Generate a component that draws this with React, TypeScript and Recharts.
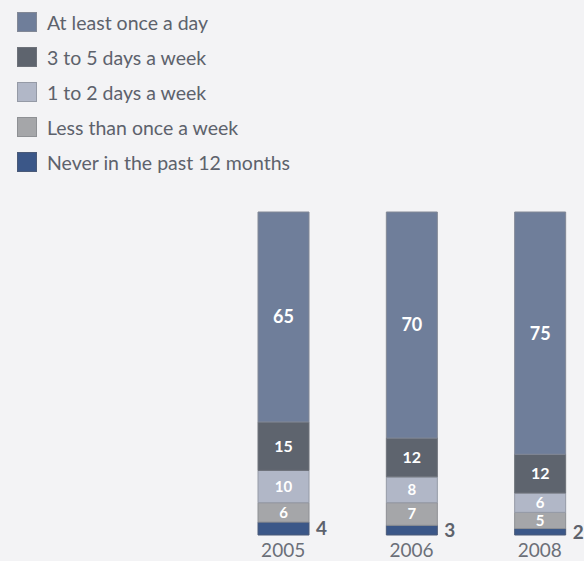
import React from 'react';
import { BarChart, Bar, XAxis, YAxis, LabelList, Legend } from 'recharts';

const years = ['2005', '2006', '2008'];
const daily = [65, 70, 75];
const threeToFive = [15, 12, 12];
const oneToTwo = [10, 8, 6];
const lessThanWeekly = [6, 7, 5];
const never = [4, 3, 2];

const seriesNames = [
  'At least once a day',
  '3 to 5 days a week',
  '1 to 2 days a week',
  'Less than once a week',
  'Never in the past 12 months',
];
const seriesKeys = ['daily', 'threeToFive', 'oneToTwo', 'less', 'never'];
const seriesColors = ['#6f7e9a', '#5e646e', '#b1b7c7', '#a5a6a9', '#3b5788'];
const seriesStrokes = ['#828896', '#6e727a', '#959aa6', '#8e9094', '#4a5a78'];
const labelSizes = [18, 16, 15, 15, 19];

const data = years.map((y, i) => ({
  year: y,
  daily: daily[i],
  threeToFive: threeToFive[i],
  oneToTwo: oneToTwo[i],
  less: lessThanWeekly[i],
  never: never[i],
}));

const FONT = 'Lato, "Open Sans", sans-serif';

const renderLegend = () => (
  <div style={{ fontFamily: FONT }}>
    {seriesNames.map((name, i) => (
      <div
        key={name}
        style={{
          position: 'absolute',
          left: 17,
          top: 12 + i * 35,
          height: 20,
          display: 'flex',
          alignItems: 'center',
          whiteSpace: 'nowrap',
        }}
      >
        <div
          style={{
            width: 18,
            height: 18,
            background: seriesColors[i],
            border: `1px solid ${seriesStrokes[i]}`,
          }}
        />
        <span style={{ marginLeft: 10, fontSize: 19.5, color: '#5d626c' }}>{name}</span>
      </div>
    ))}
  </div>
);

// stacking order bottom -> top
const stackOrder = [4, 3, 2, 1, 0];

export default function App() {
  return (
    <div
      style={{
        position: 'absolute',
        left: 0,
        top: 0,
        width: 584,
        height: 561,
        overflow: 'hidden',
        background: '#f3f3f5',
      }}
    >
      <BarChart
        width={620}
        height={561}
        data={data}
        margin={{ top: 212, right: 16, bottom: 0, left: 219 }}
      >
        <XAxis
          dataKey="year"
          axisLine={false}
          tickLine={false}
          height={26}
          tickMargin={3}
          tick={{ fill: '#6b6f78', fontSize: 19, fontFamily: FONT }}
        />
        <YAxis hide domain={[0, 100]} />
        <Legend
          layout="horizontal"
          align="center"
          verticalAlign="middle"
          content={renderLegend}
          wrapperStyle={{ top: 0, left: 0, width: 400, height: 190 }}
        />
        {stackOrder.map((idx) => (
          <Bar
            key={seriesKeys[idx]}
            dataKey={seriesKeys[idx]}
            name={seriesNames[idx]}
            stackId="a"
            barSize={51}
            fill={seriesColors[idx]}
            stroke={seriesStrokes[idx]}
            strokeWidth={1}
            isAnimationActive={false}
          >
            {idx === 4 ? (
              <LabelList
                dataKey={seriesKeys[idx]}
                position="right"
                offset={7}
                fill="#5d626c"
                fontSize={labelSizes[idx]}
                fontWeight={700}
                fontFamily={FONT}
              />
            ) : (
              <LabelList
                dataKey={seriesKeys[idx]}
                position="center"
                fill="#ffffff"
                fontSize={labelSizes[idx]}
                fontWeight={700}
                fontFamily={FONT}
              />
            )}
          </Bar>
        ))}
      </BarChart>
    </div>
  );
}
